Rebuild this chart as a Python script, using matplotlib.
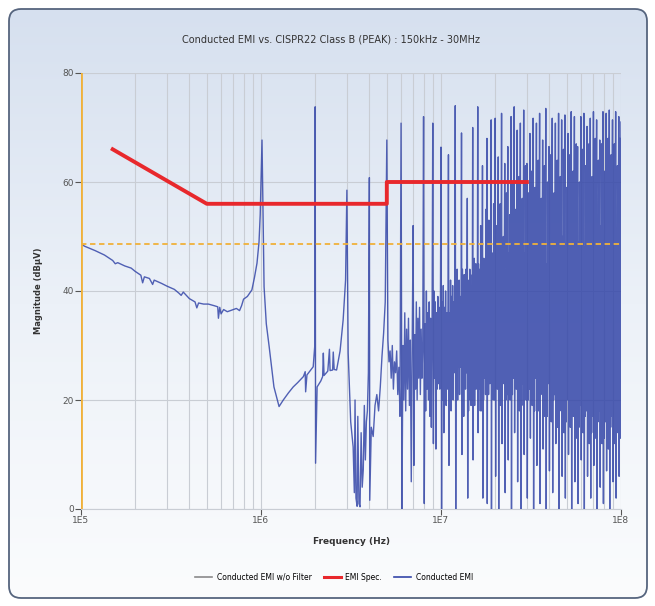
import matplotlib
matplotlib.use('Agg')
import matplotlib.pyplot as plt
import numpy as np
from matplotlib.patches import FancyBboxPatch
from matplotlib.lines import Line2D

# --- data (frequency in MHz, magnitude in dBuV) ---
low_mhz = [0.100, 0.105, 0.12, 0.135, 0.15, 0.155, 0.16, 0.175, 0.19, 0.2, 0.215, 0.22, 0.225,
           0.24, 0.25, 0.255, 0.28, 0.30, 0.33, 0.35, 0.36, 0.37, 0.40, 0.43, 0.44, 0.45, 0.48,
           0.51, 0.55, 0.575, 0.58, 0.59, 0.6, 0.62, 0.65, 0.69, 0.73, 0.76, 0.78, 0.80, 0.84,
           0.89, 0.92, 0.95, 0.975, 0.99, 1.0, 1.013, 1.025, 1.04, 1.07, 1.11, 1.18, 1.26, 1.33,
           1.42, 1.51, 1.6, 1.72, 1.76, 1.77, 1.8, 1.95, 1.99, 2.0, 2.01, 2.05, 2.15, 2.2, 2.22,
           2.24, 2.35, 2.4, 2.42, 2.5, 2.52, 2.55, 2.63, 2.75, 2.86, 2.95, 3.0, 3.05, 3.15, 3.25,
           3.3, 3.33, 3.37, 3.42, 3.45, 3.5, 3.55, 3.6, 3.65, 3.7, 3.75, 3.8, 3.85, 3.9, 3.95,
           4.0, 4.02, 4.1, 4.2, 4.3, 4.4, 4.5, 4.6, 4.7, 4.8, 4.9]
low_db = [48.6, 48.2, 47.4, 46.6, 45.6, 45.0, 45.2, 44.6, 44.2, 43.6, 42.9, 41.5, 42.6,
          42.3, 41.2, 42.0, 41.4, 40.9, 40.3, 39.6, 39.2, 39.8, 38.6, 38.0, 36.9, 37.8, 37.6,
          37.6, 37.3, 37.1, 35.0, 37.0, 35.8, 36.6, 36.2, 36.5, 36.8, 36.4, 37.3, 38.5, 39.0,
          40.2, 42.5, 45.1, 49.0, 54.0, 60.0, 67.7, 55.0, 40.8, 34.0, 29.8, 22.4, 18.8, 20.0,
          21.3, 22.4, 23.2, 24.3, 25.2, 21.5, 24.6, 26.1, 30.0, 73.8, 8.4, 22.4, 23.5, 24.3, 28.6,
          24.5, 25.3, 29.3, 25.4, 25.5, 28.8, 25.6, 25.5, 29.0, 34.7, 42.0, 58.5, 28.6, 16.0, 11.4,
          3.0, 20.0, 2.0, 0.5, 17.0, 1.0, 0.4, 14.0, 4.0, 7.2, 19.0, 9.0, 16.0, 18.0, 25.0,
          60.8, 1.6, 15.0, 13.3, 19.0, 21.0, 18.0, 22.4, 28.0, 32.3, 38.0]

spike_mhz = [5, 6, 7, 8, 9, 10, 11, 12, 13, 14, 15, 16, 17, 18, 19, 20,
             20.8, 21.7, 22.6, 23.5, 24.5, 25.5, 26.5, 27.6, 28.8, 30, 31.2, 32.5, 33.9, 35.3,
             36.7, 38.2, 39.8, 41.5, 43.2, 45, 46.8, 48.8, 50.8, 52.9, 55.1, 57.4, 59.8, 62.2,
             64.8, 67.5, 70.3, 73.2, 76.2, 79.4, 82.7, 86.1, 89.7, 93.4, 97.2, 100]
spike_db = [67.7, 70.8, 52.0, 72.0, 70.8, 66.4, 65.0, 74.0, 69.0, 57.0, 70.0, 73.8, 63.0, 68.0, 71.4, 71.7,
            64.6, 72.6, 63.4, 66.5, 72.0, 73.8, 69.5, 70.8, 73.2, 63.4, 68.9, 71.7, 70.8, 72.6,
            67.7, 73.5, 66.5, 71.7, 70.8, 72.6, 71.4, 72.3, 68.9, 72.9, 72.0, 66.5, 72.0, 72.6,
            70.2, 71.7, 72.9, 71.4, 67.7, 72.9, 72.6, 73.2, 71.4, 72.9, 72.0, 71.0]

# values between one spike and the next
gap_db = [
    [31, 27, 29, 24, 30, 22, 27, 25, 29, 21, 26, 17],
    [0, 30, 20, 36, 18, 33, 22, 35, 19, 31, 5, 30],
    [8, 32, 22, 38, 20, 35, 24, 37, 21, 33, 24, 30],
    [1, 34, 18, 40, 22, 36, 20, 38, 17, 35, 15, 33],
    [12, 40, 24, 38, 11, 36, 22, 39, 23, 37, 22, 34],
    [0, 38, 20, 41, 14, 37, 22, 40, 19, 36, 22, 30],
    [8, 36, 21, 42, 18, 39, 25, 41, 20, 38, 25, 33],
    [0, 40, 24, 44, 20, 38, 26, 42, 21, 39, 26, 35],
    [10, 44, 22, 40, 17, 43, 25, 41, 22, 44, 25, 36],
    [2, 38, 18, 42, 23, 44, 20, 43, 19, 40, 20, 37],
    [9, 43, 24, 46, 19, 41, 27, 45, 22, 42, 27, 38],
    [14, 45, 22, 40, 26, 44, 18, 52, 24, 45, 18, 36],
    [2, 42, 20, 46, 24, 39, 27, 44, 21, 55, 27, 41],
    [1, 44, 25, 40, 21, 53, 28, 42, 23, 45, 28, 37],
    [0, 45, 22, 42, 26, 47, 20, 56, 24, 46, 20, 39],
    [6, 44, 24, 52, 22, 43], [0, 42, 22, 56, 19, 41], [12, 46, 26, 50, 23, 44], [3, 43, 20, 58, 21, 42],
    [9, 47, 25, 54, 20, 45], [0, 44, 21, 60, 24, 43], [14, 46, 27, 55, 22, 47], [5, 48, 22, 61, 18, 46],
    [0, 43, 19, 57, 23, 44], [10, 47, 24, 63, 20, 48], [2, 45, 20, 58, 22, 45], [13, 48, 26, 62, 19, 47],
    [0, 44, 18, 59, 24, 45], [8, 49, 23, 64, 18, 48], [1, 46, 21, 57, 22, 46], [11, 48, 25, 63, 17, 49],
    [0, 45, 17, 60, 23, 46], [7, 49, 22, 65, 16, 50], [3, 47, 20, 58, 21, 47], [12, 50, 24, 64, 15, 49],
    [0, 46, 18, 61, 22, 48], [6, 50, 21, 66, 14, 51], [2, 48, 16, 59, 20, 48], [10, 51, 23, 65, 15, 50],
    [0, 47, 19, 62, 17, 49], [5, 52, 20, 67, 13, 51], [1, 49, 15, 60, 19, 48], [9, 51, 22, 66, 14, 52],
    [0, 48, 17, 63, 18, 50], [6, 52, 19, 67, 12, 51], [2, 50, 14, 61, 17, 49], [8, 53, 21, 68, 13, 52],
    [0, 49, 16, 64, 18, 50], [4, 52, 18, 67, 12, 53], [1, 50, 13, 62, 16, 50], [7, 53, 20, 68, 11, 52],
    [0, 51, 15, 65, 17, 51], [5, 52, 17, 67, 12, 53], [2, 50, 14, 63, 15, 51], [6, 53, 19, 68, 13, 52],
]

spec_mhz = [0.15, 0.5, 0.5, 5.0, 5.0, 30.0]
spec_db = [66, 56, 56, 56, 60, 60]
ref_level = 48.6

# build the measured trace
freq = list(low_mhz)
mag = list(low_db)
for i in range(len(spike_mhz)):
    freq.append(spike_mhz[i])
    mag.append(spike_db[i])
    if i < len(gap_db):
        vals = gap_db[i]
        pos = np.geomspace(spike_mhz[i], spike_mhz[i + 1], len(vals) + 2)[1:-1]
        freq.extend(pos)
        mag.extend(vals)
freq = np.array(freq) * 1e6
mag = np.array(mag)

fig = plt.figure(figsize=(6.55, 6.06), dpi=100)
fig.patch.set_facecolor('white')

# rounded panel with a soft gradient
bg = fig.add_axes([0, 0, 1, 1], zorder=-10)
bg.set_xlim(0, 655)
bg.set_ylim(606, 0)
bg.axis('off')
panel = FancyBboxPatch((9, 9), 638, 589, boxstyle='round,pad=0,rounding_size=12',
                       facecolor='none', edgecolor='#56657e', linewidth=1.3, zorder=3)
bg.add_patch(panel)
grad = np.linspace(0, 1, 256).reshape(-1, 1)
img = bg.imshow(grad, extent=[9, 647, 598, 9], cmap=matplotlib.colors.LinearSegmentedColormap.from_list(
    'g', ['#d6e0ef', '#ecf1f8', '#fbfcfd']), aspect='auto', zorder=1)
img.set_clip_path(panel)

ax = fig.add_axes([81 / 655, 1 - 509 / 606, 540 / 655, 436 / 606])
ax.patch.set_alpha(0)
ax.set_xscale('log')
ax.set_xlim(1e5, 1e8)
ax.set_ylim(0, 80)

ax.grid(True, which='both', axis='x', color='#c9cdd4', linewidth=0.8)
ax.set_yticks([0, 20, 40, 60, 80])
ax.grid(True, which='major', axis='y', color='#c9cdd4', linewidth=0.8)

ax.plot(freq, mag, color='#3446a8', linewidth=1.0, alpha=0.85, zorder=3)
ax.plot(np.array(spec_mhz) * 1e6, spec_db, color='#e8282c', linewidth=2.8, zorder=4)
ax.axhline(ref_level, color='#f0b13a', linewidth=1.3, linestyle=(0, (3, 2)), zorder=4)
ax.axvline(1e5, color='#f0b13a', linewidth=2, zorder=5)

for s in ['top', 'right']:
    ax.spines[s].set_visible(False)
ax.spines['left'].set_visible(False)
ax.spines['bottom'].set_color('#c9cdd4')

ax.set_xticks([1e5, 1e6, 1e7, 1e8])
ax.set_xticklabels(['1E5', '1E6', '1E7', '1E8'])
ax.xaxis.set_minor_formatter(matplotlib.ticker.NullFormatter())
ax.tick_params(axis='x', which='minor', length=0)
ax.tick_params(axis='both', which='major', length=4, width=0.8, color='#555555',
               labelsize=6.5, labelcolor='#555555', pad=1)

ax.set_xlabel('Frequency (Hz)', fontsize=6.5, fontweight='bold', color='#333333', labelpad=9)
ax.set_ylabel('Magnitude (dBµV)', fontsize=6, fontweight='bold', color='#333333', labelpad=14)

fig.text(0.505, 1 - 40 / 606, 'Conducted EMI vs. CISPR22 Class B (PEAK) : 150kHz - 30MHz',
         ha='center', va='center', fontsize=7, color='#333333')

handles = [Line2D([], [], color='#8a8a8a', linewidth=1.2),
           Line2D([], [], color='#e8282c', linewidth=2.2),
           Line2D([], [], color='#3446a8', linewidth=1.2)]
fig.legend(handles, ['Conducted EMI w/o Filter', 'EMI Spec.', 'Conducted EMI'],
           loc='center', bbox_to_anchor=(0.51, 1 - 577 / 606), ncol=3, frameon=False,
           fontsize=5.5, handlelength=2.2, columnspacing=1.6, handletextpad=0.6)

fig.savefig('out.png', dpi=100)
